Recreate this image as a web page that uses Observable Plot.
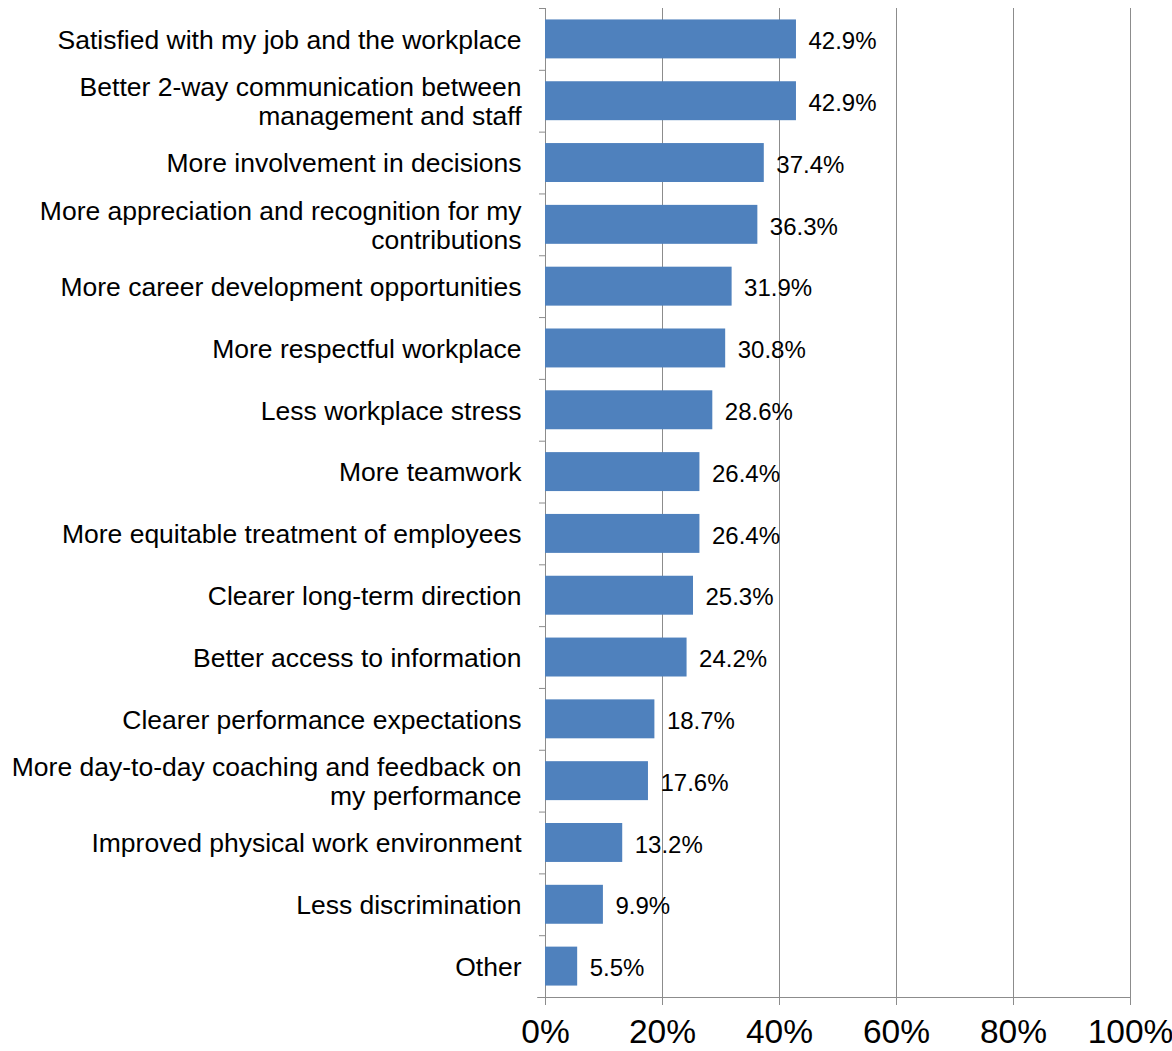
<!DOCTYPE html>
<html>
<head>
<meta charset="utf-8">
<script src="https://cdn.jsdelivr.net/npm/d3@7"></script>
<script src="https://cdn.jsdelivr.net/npm/@observablehq/plot@0.6"></script>
<style>
  html, body { margin: 0; padding: 0; background: #fff; }
  #chart svg { display: block; }
</style>
</head>
<body>
<div id="chart"></div>
<script>
const categories = [
  "Satisfied with my job and the workplace",
  "Better 2-way communication between\nmanagement and staff",
  "More involvement in decisions",
  "More appreciation and recognition for my\ncontributions",
  "More career development opportunities",
  "More respectful workplace",
  "Less workplace stress",
  "More teamwork",
  "More equitable treatment of employees",
  "Clearer long-term direction",
  "Better access to information",
  "Clearer performance expectations",
  "More day-to-day coaching and feedback on\nmy performance",
  "Improved physical work environment",
  "Less discrimination",
  "Other"
];
const values = [42.9, 42.9, 37.4, 36.3, 31.9, 30.8, 28.6, 26.4, 26.4, 25.3, 24.2, 18.7, 17.6, 13.2, 9.9, 5.5];
const xTicks = [0, 0.2, 0.4, 0.6, 0.8, 1];
const gridTicks = [0.2, 0.4, 0.6, 0.8, 1];

const data = categories.map((c, i) => ({category: c, value: values[i] / 100, label: values[i].toFixed(1) + "%"}));

const W = 1172, H = 1051;
const mTop = 8, mBottom = 54, mLeft = 545, mRight = 42;
const step = (H - mTop - mBottom) / categories.length;
const plotW = W - mLeft - mRight;
const tickLen = 6 / plotW;
const axisColor = "#8c8c8c";

const chart = Plot.plot({
  width: W,
  height: H,
  marginTop: mTop,
  marginBottom: mBottom,
  marginLeft: mLeft,
  marginRight: mRight,
  style: {fontFamily: "'Liberation Sans', Arial, sans-serif", color: "#000", background: "#fff"},
  x: {domain: [0, 1]},
  y: {domain: categories, paddingInner: 0.37, paddingOuter: 0.185, round: false},
  marks: [
    Plot.ruleX(gridTicks, {stroke: axisColor, strokeWidth: 1}),
    Plot.ruleX([0], {stroke: axisColor, strokeWidth: 1}),
    Plot.barX(data, {x: "value", y: "category", fill: "#4F81BD"}),
    Plot.ruleY(categories, {y: d => d, dy: -step / 2, x1: -tickLen, x2: 0, stroke: axisColor}),
    Plot.ruleY([categories[categories.length - 1]], {y: d => d, dy: step / 2, x1: -tickLen * 1.3, x2: 1, stroke: axisColor}),
    Plot.text(data, {x: "value", y: "category", text: "label", dx: 12, dy: 2, textAnchor: "start", fontSize: 24, fill: "#000"}),
    Plot.axisY({tickSize: 0, tickPadding: 24, fontSize: 26.5, lineHeight: 1.1, fill: "#000", label: null}),
    Plot.axisX({ticks: xTicks, tickFormat: d => Math.round(d * 100) + "%", tickSize: 8, tickPadding: 14, fontSize: 33.5, stroke: axisColor, fill: "#000", label: null})
  ]
});
document.getElementById("chart").appendChild(chart);
</script>
</body>
</html>
